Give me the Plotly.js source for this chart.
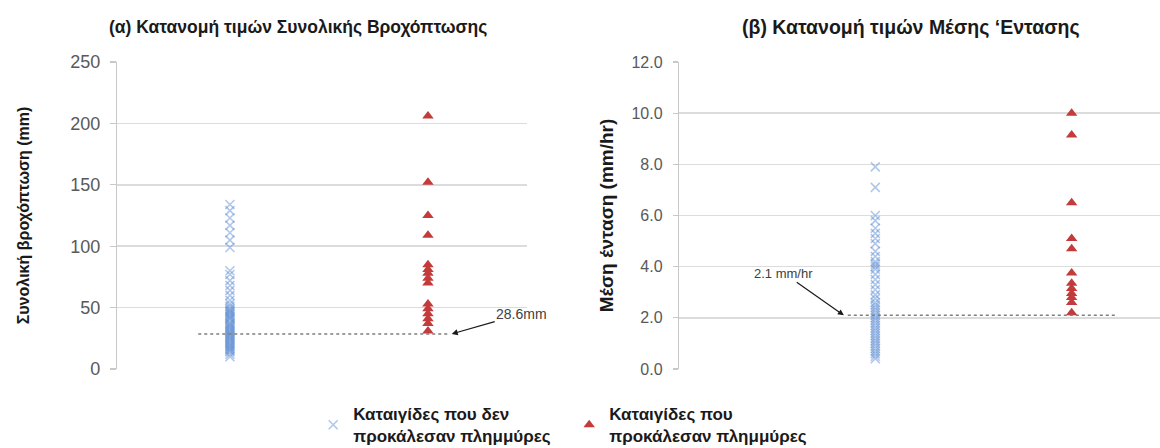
<!DOCTYPE html>
<html>
<head>
<meta charset="utf-8">
<script src="https://cdn.plot.ly/plotly-3.0.1.min.js"></script>
<style>
  html, body { margin: 0; padding: 0; background: #ffffff; }
  #chart { width: 1160px; height: 448px; }
</style>
</head>
<body>
<div id="chart"></div>
<script>
// Storm groups
const groupNames = [
  'Καταιγίδες που δεν<br>προκάλεσαν πλημμύρες',
  'Καταιγίδες που<br>προκάλεσαν πλημμύρες'
];

// Total rainfall (mm) per storm
const totalNoFlood = [134, 129, 123, 117, 111, 105, 99, 80, 77, 72, 68, 64, 60, 56, 53, 51, 49, 48,
  47, 46, 45, 44, 43, 42, 41, 40, 38, 37, 36, 35, 34, 33, 32, 31, 30, 29, 28, 27, 26, 25, 24, 23,
  22, 21, 20, 19, 18, 17, 16, 15, 14, 12, 10];
const totalFlood = [206, 152, 125, 109, 85, 81, 78, 74, 70, 53, 49, 45, 41, 37, 31];

// Mean intensity (mm/hr) per storm
const intensityNoFlood = [7.9, 7.1, 6.0, 5.8, 5.5, 5.3, 5.1, 4.9, 4.6, 4.4, 4.2, 4.1, 4.0, 3.9, 3.7,
  3.5, 3.3, 3.1, 2.9, 2.75, 2.6, 2.5, 2.4, 2.3, 2.2, 2.1, 2.0, 1.9, 1.8, 1.7, 1.6, 1.5, 1.4, 1.3,
  1.2, 1.1, 1.0, 0.9, 0.8, 0.7, 0.6, 0.5, 0.4];
const intensityFlood = [10.0, 9.15, 6.5, 5.1, 4.7, 3.75, 3.35, 3.15, 2.95, 2.8, 2.6, 2.2];

// Thresholds
const thrTotal = 28.6;
const thrIntensity = 2.1;
const thrTotalLabel = '28.6mm';
const thrIntensityLabel = '2.1 mm/hr';

// Axis ticks
const totalTicks = [0, 50, 100, 150, 200, 250];
const intensityTicks = [0, 2, 4, 6, 8, 10, 12];
const intensityTickText = ['0.0', '2.0', '4.0', '6.0', '8.0', '10.0', '12.0'];

const panelTitles = [
  '(α) Κατανομή τιμών Συνολικής Βροχόπτωσης',
  '(β) Κατανομή τιμών Μέσης ‘Εντασης'
];
const yTitles = ['Συνολική βροχόπτωση (mm)', 'Μέση ένταση (mm/hr)'];

const BLUE = 'rgba(100,146,214,0.5)';
const RED = '#c33b3b';
const FONT = 'Liberation Sans, Arial, sans-serif';

const col = (arr, pos) => arr.map(() => pos);

const blueMarker = { symbol: 'x-thin-open', size: 9, line: { color: BLUE, width: 1.6 }, color: BLUE };
const redMarker = { symbol: 'triangle-up', size: 10, color: RED, line: { width: 0 } };

const traces = [
  { type: 'scatter', mode: 'markers', name: groupNames[0], x: col(totalNoFlood, 1), y: totalNoFlood,
    xaxis: 'x', yaxis: 'y', marker: blueMarker, showlegend: true },
  { type: 'scatter', mode: 'markers', name: groupNames[1], x: col(totalFlood, 2), y: totalFlood,
    xaxis: 'x', yaxis: 'y', marker: redMarker, showlegend: true },
  { type: 'scatter', mode: 'markers', name: groupNames[0], x: col(intensityNoFlood, 1), y: intensityNoFlood,
    xaxis: 'x2', yaxis: 'y2', marker: blueMarker, showlegend: false },
  { type: 'scatter', mode: 'markers', name: groupNames[1], x: col(intensityFlood, 2), y: intensityFlood,
    xaxis: 'x2', yaxis: 'y2', marker: redMarker, showlegend: false }
];

const yDomain = [0.1763, 0.8616];
const gridColor = '#dcdcdc';

const yBase = {
  domain: yDomain, showgrid: true, gridcolor: gridColor, gridwidth: 1.5,
  showline: true, linecolor: '#c8c8c8', linewidth: 1.2,
  ticks: 'outside', ticklen: 6, tickcolor: '#c8c8c8', tickwidth: 1.2,
  zeroline: false, tickmode: 'array'
};
const xBase = {
  showgrid: false, zeroline: false, showline: false, showticklabels: false, ticks: '', fixedrange: true
};

const layout = {
  width: 1160, height: 448,
  margin: { l: 0, r: 0, t: 0, b: 0, autoexpand: false },
  paper_bgcolor: '#ffffff', plot_bgcolor: '#ffffff',
  font: { family: FONT, color: '#595959' },
  xaxis: Object.assign({}, xBase, { domain: [0.1009, 0.4543], range: [0.43, 2.5], anchor: 'y' }),
  yaxis: Object.assign({}, yBase, {
    anchor: 'x', range: [0, 250], tickvals: totalTicks, ticktext: totalTicks.map(String),
    tickfont: { size: 18, color: '#595959', family: FONT }, ticklabelstandoff: 6,
    title: { text: yTitles[0], font: { size: 16, color: '#1a1a1a', family: FONT, weight: 'bold' }, standoff: 36 }
  }),
  xaxis2: Object.assign({}, xBase, { domain: [0.5853, 1.0], range: [0, 2.45], anchor: 'y2' }),
  yaxis2: Object.assign({}, yBase, {
    anchor: 'x2', range: [0, 12], tickvals: intensityTicks, ticktext: intensityTickText,
    ticklen: 5, tickfont: { size: 16, color: '#595959', family: FONT }, ticklabelstandoff: 7,
    title: { text: yTitles[1], font: { size: 19, color: '#1a1a1a', family: FONT, weight: 'bold' }, standoff: 12 }
  }),
  showlegend: true,
  legend: {
    orientation: 'h', x: 0.27, xanchor: 'left', y: 0.051, yanchor: 'middle',
    bgcolor: 'rgba(0,0,0,0)', traceorder: 'normal',
    font: { size: 17, color: '#1a1a1a', family: FONT, weight: 'bold' },
    entrywidth: 211, entrywidthmode: 'pixels', itemclick: false, itemdoubleclick: false
  },
  shapes: [
    { type: 'line', xref: 'x', yref: 'y', x0: 0.84, x1: 2.11, y0: thrTotal, y1: thrTotal,
      line: { color: '#7f7f7f', width: 1.5, dash: '3px,3px' } },
    { type: 'line', xref: 'x2', yref: 'y2', x0: 0.86, x1: 2.22, y0: thrIntensity, y1: thrIntensity,
      line: { color: '#7f7f7f', width: 1.5, dash: '3px,3px' } }
  ],
  annotations: [
    { xref: 'paper', yref: 'paper', x: 0.257, y: 0.94, xanchor: 'center', yanchor: 'middle',
      text: panelTitles[0], showarrow: false,
      font: { size: 17.5, color: '#1a1a1a', family: FONT, weight: 'bold' } },
    { xref: 'paper', yref: 'paper', x: 0.785, y: 0.94, xanchor: 'center', yanchor: 'middle',
      text: panelTitles[1], showarrow: false,
      font: { size: 19.5, color: '#1a1a1a', family: FONT, weight: 'bold' } },
    { xref: 'x', yref: 'y', x: 2.12, y: thrTotal, text: thrTotalLabel, showarrow: true,
      ax: 70, ay: -20, arrowhead: 2, arrowsize: 1, arrowwidth: 1.2, arrowcolor: '#1a1a1a',
      font: { size: 14, color: '#404040', family: FONT } },
    { xref: 'x2', yref: 'y2', x: 0.84, y: thrIntensity, text: thrIntensityLabel, showarrow: true,
      ax: -60, ay: -42, arrowhead: 2, arrowsize: 1, arrowwidth: 1.2, arrowcolor: '#1a1a1a',
      font: { size: 13, color: '#404040', family: FONT } }
  ]
};

Plotly.newPlot('chart', traces, layout, { staticPlot: true, displayModeBar: false });
</script>
</body>
</html>
